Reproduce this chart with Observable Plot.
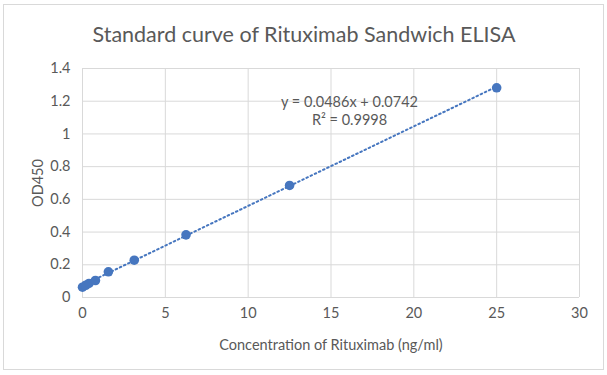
<!DOCTYPE html>
<html>
<head>
<meta charset="utf-8">
<script src="https://cdn.jsdelivr.net/npm/d3@7"></script>
<script src="https://cdn.jsdelivr.net/npm/@observablehq/plot@0.6"></script>
<style>
  body { margin: 0; background: #fff; }
  #wrap { position: relative; width: 607px; height: 375px; overflow: hidden; }
  #border { position: absolute; left: 3px; top: 4px; width: 601px; height: 366px; border: 1px solid #d9d9d9; box-sizing: border-box; }
  #chart { position: absolute; left: 0; top: 0; }
</style>
</head>
<body>
<div id="wrap"><div id="border"></div><div id="chart"></div></div>
<script>
const title = "Standard curve of Rituximab Sandwich ELISA";
const xLabel = "Concentration of Rituximab (ng/ml)";
const yLabel = "OD450";
const concentration = [0, 0.195, 0.39, 0.78, 1.5625, 3.125, 6.25, 12.5, 25];
const od450 = [0.063, 0.075, 0.086, 0.104, 0.157, 0.228, 0.383, 0.685, 1.282];
const slope = 0.0486;
const intercept = 0.0742;
const rSquared = 0.9998;
const trendRange = [0, 25];
const xTicks = [0, 5, 10, 15, 20, 25, 30];
const yTicks = [0, 0.2, 0.4, 0.6, 0.8, 1, 1.2, 1.4];

const points = concentration.map((c, i) => ({x: c, y: od450[i]}));
const trend = trendRange.map(x => ({x, y: slope * x + intercept}));
const eqLine1 = `y = ${slope}x + ${intercept}`;
const eqLine2 = `R² = ${rSquared}`;

const blue = "#4676bf";
const textColor = "#595959";
const font = "Lato, 'Open Sans', sans-serif";

const chart = Plot.plot({
  width: 607,
  height: 375,
  marginLeft: 82,
  marginRight: 28,
  marginTop: 68,
  marginBottom: 78,
  style: {fontFamily: font, fontSize: "14.5px", color: textColor, background: "transparent"},
  x: {domain: [0, 30], ticks: xTicks},
  y: {domain: [0, 1.4], ticks: yTicks},
  marks: [
    Plot.gridX(xTicks, {stroke: "#d9d9d9", strokeOpacity: 1, strokeWidth: 1}),
    Plot.gridY(yTicks, {stroke: "#d9d9d9", strokeOpacity: 1, strokeWidth: 1}),
    Plot.axisX(xTicks, {tickSize: 0, tickPadding: 10, tickFormat: d => `${d}`, label: xLabel, labelAnchor: "center", labelArrow: "none", labelOffset: 52, fontSize: 14.5, fill: textColor}),
    Plot.axisY(yTicks, {tickSize: 0, tickPadding: 12, tickFormat: d => `${d}`, label: yLabel, labelAnchor: "center", labelArrow: "none", labelOffset: 50, fontSize: 14.5, fill: textColor}),
    Plot.line(trend, {x: "x", y: "y", stroke: blue, strokeWidth: 2, strokeDasharray: "1.6,3", strokeLinecap: "round"}),
    Plot.dot(points, {x: "x", y: "y", r: 4.8, fill: blue, stroke: "none"}),
    Plot.text([eqLine1], {text: d => d, frameAnchor: "top", dx: 18.5, dy: 28, fill: textColor, fontSize: 14.5}),
    Plot.text([eqLine2], {text: d => d, frameAnchor: "top", dx: 18.5, dy: 46, fill: textColor, fontSize: 14.5}),
    Plot.text([title], {text: d => d, frameAnchor: "top", dy: -42, dx: -27, fontSize: 21.5, fill: textColor})
  ]
});
document.getElementById("chart").appendChild(chart);
</script>
</body>
</html>
